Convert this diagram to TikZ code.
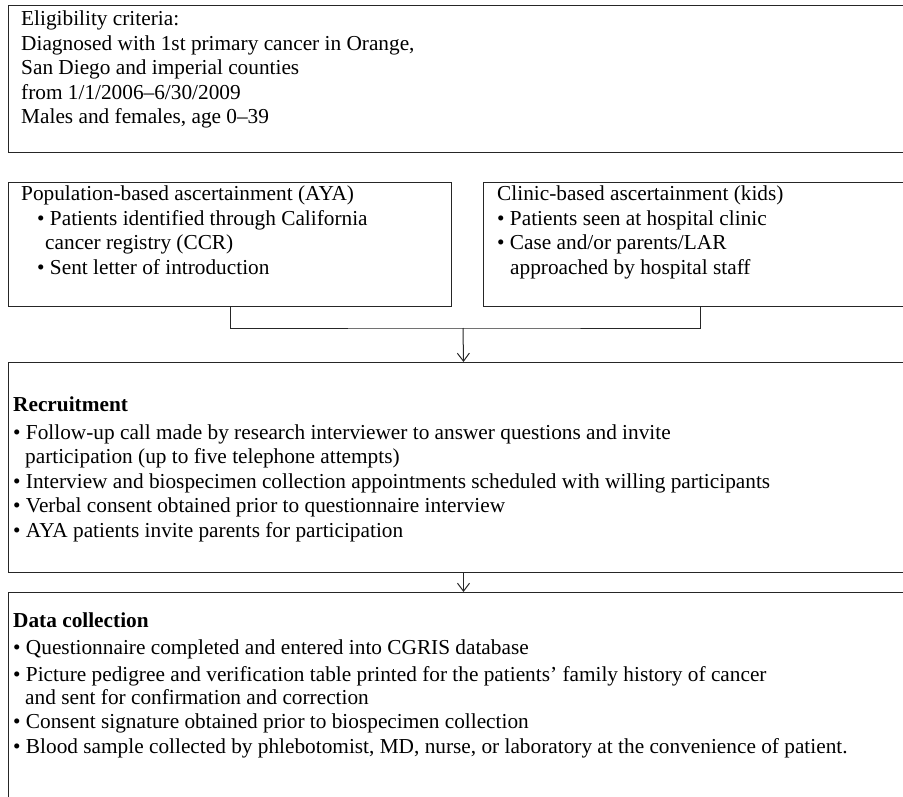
\documentclass[tikz,border=0pt]{standalone}
\usepackage{fontspec}
\setmainfont{Liberation Serif}
\usetikzlibrary{arrows.meta}

\tikzset{
  box/.style={draw=black!85, line width=1pt, anchor=north west, inner sep=0pt},
  txt/.style={anchor=north west, align=left, inner sep=0pt,
    font=\fontsize{21.3}{24.5}\selectfont},
  link/.style={draw=black!85, line width=1pt},
  tip/.style={-{Straight Barb[length=8pt,width=12pt]}},
}

\begin{document}
\begin{tikzpicture}[x=1pt,y=-1pt]
    \clip (0,0) rectangle (903,796);
    % eligibility
    \node[box, minimum width=909pt, minimum height=147pt] (elig) at (8,5) {};
    \node[txt] (eligtxt) at (21,11) {Eligibility criteria:\\
      Diagnosed with 1st primary cancer in Orange,\\
      San Diego and imperial counties\\
      from 1/1/2006--6/30/2009\\
      Males and females, age 0--39};
    % two ways of ascertainment
    \node[box, minimum width=443pt, minimum height=124pt] (pop) at (8,182) {};
    \node[txt] (poptxt) at (21,186) {Population-based ascertainment (AYA)\\
      \hspace*{16pt}\textbullet\ Patients identified through California\\
      \hspace*{24pt}cancer registry (CCR)\\
      \hspace*{16pt}\textbullet\ Sent letter of introduction};
    \node[box, minimum width=434pt, minimum height=124pt] (clin) at (483,182) {};
    \node[txt] (clintxt) at (497,186) {Clinic-based ascertainment (kids)\\
      \textbullet\ Patients seen at hospital clinic\\
      \textbullet\ Case and/or parents/LAR\\
      \hspace*{13pt}approached by hospital staff};
    % recruitment
    \node[box, minimum width=910pt, minimum height=210pt] (recr) at (8,362) {};
    \node[txt] (recrtxt) at (13,397) {\textbf{Recruitment}\\[3pt]
      \textbullet\ Follow-up call made by research interviewer to answer questions and invite\\
      \hspace*{12pt}participation (up to five telephone attempts)\\
      \textbullet\ Interview and biospecimen collection appointments scheduled with willing participants\\
      \textbullet\ Verbal consent obtained prior to questionnaire interview\\
      \textbullet\ AYA patients invite parents for participation};
    % data collection
    \node[box, minimum width=910pt, minimum height=230pt] (data) at (8,592) {};
    \node[txt] (datatxt) at (13,613) {\textbf{Data collection}\\[2pt]
      \textbullet\ Questionnaire completed and entered into CGRIS database\\[3pt]
      \textbullet\ Picture pedigree and verification table printed for the patients' family history of cancer\\[-2pt]
      \hspace*{12pt}and sent for confirmation and correction\\
      \textbullet\ Consent signature obtained prior to biospecimen collection\\
      \textbullet\ Blood sample collected by phlebotomist, MD, nurse, or laboratory at the convenience of patient.};
    % connectors
    \coordinate (merge) at (463,328);
    \draw[link] (pop.south) |- (merge) -| (clin.south);
    \draw[link, tip] (merge) -- (recr.north);
    \draw[link, tip] (recr.south) -- (data.north);
\end{tikzpicture}
\end{document}
